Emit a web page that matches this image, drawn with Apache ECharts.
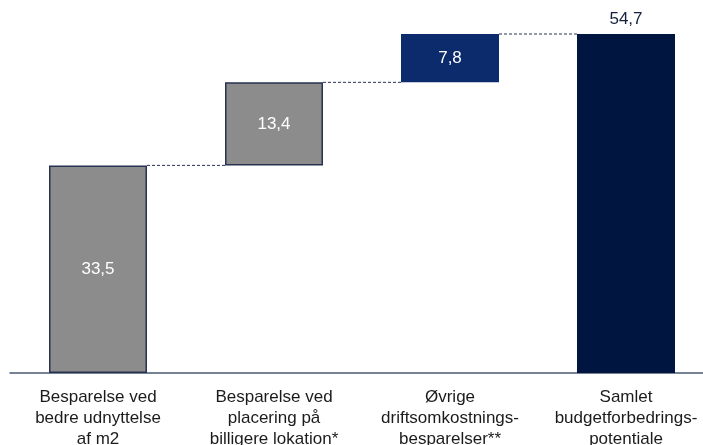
<!DOCTYPE html>
<html>
<head>
<meta charset="utf-8">
<script src="https://cdn.jsdelivr.net/npm/echarts@6/dist/echarts.min.js"></script>
<style>
  html, body { margin: 0; padding: 0; background: #ffffff; overflow: hidden; }
  #chart { width: 714px; height: 445px; }
</style>
</head>
<body>
<div id="chart"></div>
<script>
// Waterfall of budget savings (mio. kr.)
const categories = [
  'Besparelse ved\nbedre udnyttelse\naf m2',
  'Besparelse ved\nplacering på\nbilligere lokation*',
  'Øvrige\ndriftsomkostnings-\nbesparelser**',
  'Samlet\nbudgetforbedrings-\npotentiale'
];
const steps = [33.5, 13.4, 7.8];
const total = 54.7;

const barColors = ['#8c8c8c', '#8c8c8c', '#0c2b6c', '#001641'];

// invisible base offsets for the floating steps, and visible heights
const bases = [];
const heights = [];
let running = 0;
steps.forEach(v => { bases.push(running); heights.push(v); running += v; });
bases.push(0);
heights.push(total);

// connector levels: cumulative top of each step
const connectors = [];
let acc = 0;
steps.forEach((v, i) => { acc += v; connectors.push([i, acc]); });

const fmt = v => v.toFixed(1).replace('.', ',');
const BAR_W = 98;

const chart = echarts.init(document.getElementById('chart'));
chart.setOption({
  animation: false,
  grid: { left: 10, right: 0, top: 34, bottom: 72, outerBoundsMode: 'none', containLabel: false },
  xAxis: {
    type: 'category',
    data: categories,
    axisTick: { show: false },
    axisLine: { lineStyle: { color: '#4a5873', width: 1.5 } },
    axisLabel: {
      interval: 0,
      color: '#1b1b1b',
      fontFamily: 'Liberation Sans, Arial, sans-serif',
      fontSize: 17,
      lineHeight: 21,
      margin: 14
    }
  },
  yAxis: {
    type: 'value', min: 0, max: total,
    show: false, splitLine: { show: false }
  },
  series: [
    {
      type: 'bar', stack: 'w', barWidth: BAR_W, silent: true,
      itemStyle: { color: 'transparent' },
      data: bases
    },
    {
      type: 'bar', stack: 'w', barWidth: BAR_W,
      data: heights.map((v, i) => ({
        value: v,
        itemStyle: {
          color: barColors[i],
          borderColor: i < 2 ? '#26324f' : barColors[i],
          borderWidth: i < 2 ? 1.5 : 0
        },
        label: i === 3 ? {
          show: true, position: 'top', distance: 6,
          color: '#14213d'
        } : {
          show: true, position: 'inside', color: '#ffffff'
        }
      })),
      label: {
        fontFamily: 'Liberation Sans, Arial, sans-serif',
        fontSize: 17,
        formatter: p => fmt(p.value)
      }
    },
    {
      // dashed connectors between consecutive bar tops
      type: 'custom',
      silent: true,
      z: 1,
      data: connectors,
      renderItem: (params, api) => {
        const i = api.value(0);
        const y = api.value(1);
        const half = BAR_W / 2;
        const p1 = api.coord([i, y]);
        const p2 = api.coord([i + 1, y]);
        return {
          type: 'line',
          shape: { x1: p1[0] + half, y1: p1[1], x2: p2[0] - half, y2: p2[1] },
          style: { stroke: '#26324f', lineWidth: 1, lineDash: [3, 2] }
        };
      }
    }
  ]
});
</script>
</body>
</html>
